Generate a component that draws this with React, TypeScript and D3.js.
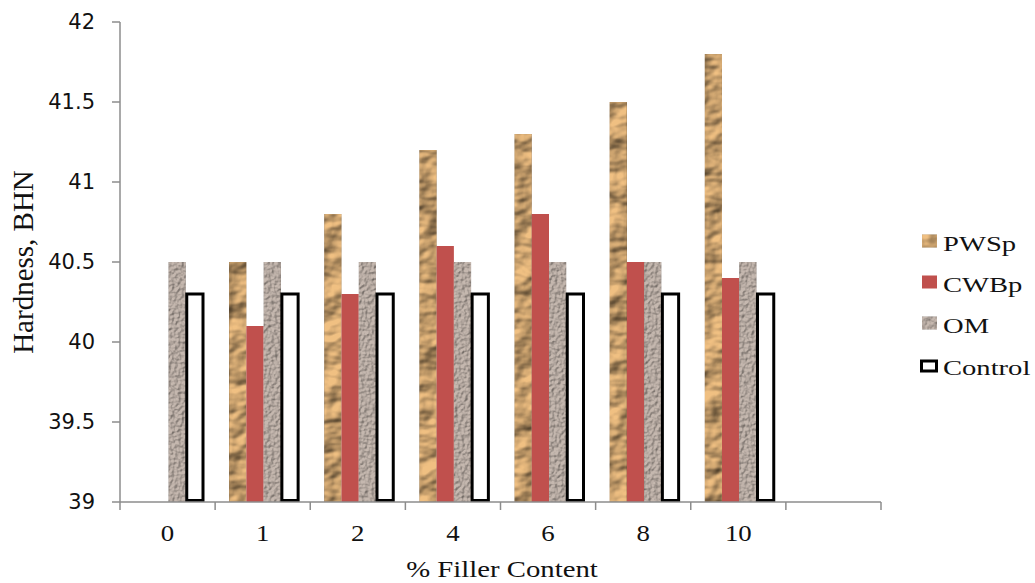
import React from "react";
import * as d3 from "d3";

const categories = ["0", "1", "2", "4", "6", "8", "10", ""];
const seriesNames = ["PWSp", "CWBp", "OM", "Control"];
const pwsp: (number | null)[] = [null, 40.5, 40.8, 41.2, 41.3, 41.5, 41.8, null];
const cwbp: (number | null)[] = [null, 40.1, 40.3, 40.6, 40.8, 40.5, 40.4, null];
const om: (number | null)[] = [40.5, 40.5, 40.5, 40.5, 40.5, 40.5, 40.5, null];
const control: (number | null)[] = [40.3, 40.3, 40.3, 40.3, 40.3, 40.3, 40.3, null];
const yTicks = [39, 39.5, 40, 40.5, 41, 41.5, 42];

const W = 1035;
const H = 583;
const left = 120;
const right = 881;
const top = 22;
const bottom = 502;

const axisColor = "#8c8c8c";
const textColor = "#111";

export default function App() {
  const x = d3.scaleBand<string>().domain(categories.map((c, i) => String(i))).range([left, right]).padding(0);
  const inner = d3.scaleBand<string>().domain(seriesNames).range([14, 83]).padding(0);
  const y = d3.scaleLinear().domain([39, 42]).range([bottom, top]);
  const bw = inner.bandwidth();

  const seriesData: Record<string, (number | null)[]> = {
    PWSp: pwsp,
    CWBp: cwbp,
    OM: om,
    Control: control,
  };

  const fillFor = (s: string) =>
    s === "PWSp" ? "#d6ab74" : s === "CWBp" ? "#c0504d" : s === "OM" ? "#b3a79f" : "#fff";
  const filterFor = (s: string) =>
    s === "PWSp" ? "url(#paperTex)" : s === "OM" ? "url(#stoneTex)" : undefined;

  const bars: React.ReactNode[] = [];
  categories.forEach((c, ci) => {
    seriesNames.forEach((s) => {
      const v = seriesData[s][ci];
      if (v == null) return;
      const bx = (x(String(ci)) as number) + (inner(s) as number);
      const yt = y(v);
      if (s === "Control") {
        bars.push(
          <rect
            key={`${s}-${ci}`}
            x={bx + 1}
            y={yt}
            width={bw - 1}
            height={bottom - yt - 1.5}
            fill="#fff"
            stroke="#000"
            strokeWidth={3}
          />
        );
      } else {
        bars.push(
          <rect
            key={`${s}-${ci}`}
            x={bx}
            y={yt}
            width={bw}
            height={bottom - yt}
            fill={fillFor(s)}
            filter={filterFor(s)}
          />
        );
      }
    });
  });

  const boundaries = d3.range(categories.length + 1).map((i) => left + i * x.step());
  const legendBaselines = [251, 292, 333, 375];

  return (
    <svg
      width={W}
      height={H}
      style={{ position: "absolute", left: 0, top: 0, background: "#fff" }}
      xmlns="http://www.w3.org/2000/svg"
    >
      <defs>
        <filter id="paperTex" x="0" y="0" width="1" height="1" colorInterpolationFilters="sRGB">
          <feTurbulence type="fractalNoise" baseFrequency="0.03 0.045" numOctaves={3} seed={4} result="n" />
          <feDiffuseLighting in="n" surfaceScale={6} diffuseConstant={1.1} lightingColor="#ffffff" result="l">
            <feDistantLight azimuth={225} elevation={45} />
          </feDiffuseLighting>
          <feComposite in="l" in2="SourceGraphic" operator="arithmetic" k1={0.9} k2={0} k3={0.22} k4={0} />
        </filter>
        <filter id="stoneTex" x="0" y="0" width="1" height="1" colorInterpolationFilters="sRGB">
          <feTurbulence type="fractalNoise" baseFrequency="0.3" numOctaves={3} seed={9} result="n" />
          <feDiffuseLighting in="n" surfaceScale={2} diffuseConstant={1.1} lightingColor="#ffffff" result="l">
            <feDistantLight azimuth={225} elevation={50} />
          </feDiffuseLighting>
          <feComposite in="l" in2="SourceGraphic" operator="arithmetic" k1={0.55} k2={0} k3={0.55} k4={0} />
        </filter>
      </defs>

      {bars}

      {/* Y axis */}
      <line x1={left} x2={left} y1={top} y2={bottom} stroke={axisColor} strokeWidth={1.5} />
      {yTicks.map((t) => (
        <g key={t}>
          <line x1={left - 8} x2={left} y1={y(t)} y2={y(t)} stroke={axisColor} strokeWidth={1.5} />
          <text
            x={95}
            y={y(t)}
            textAnchor="end"
            dominantBaseline="central"
            fontFamily="DejaVu Sans, sans-serif"
            fontSize={21}
            fill={textColor}
          >
            {String(t)}
          </text>
        </g>
      ))}

      {/* X axis */}
      <line x1={left} x2={right} y1={bottom} y2={bottom} stroke={axisColor} strokeWidth={1.5} />
      {boundaries.map((b, i) => (
        <line key={i} x1={b} x2={b} y1={bottom} y2={bottom + 8} stroke={axisColor} strokeWidth={1.5} />
      ))}
      {categories.map((c, i) => (
        <text
          key={i}
          transform={`translate(${(x(String(i)) as number) + x.bandwidth() / 2},541) scale(1.12,1)`}
          textAnchor="middle"
          fontFamily="Liberation Serif, serif"
          fontSize={24}
          fill={textColor}
        >
          {c}
        </text>
      ))}

      {/* Axis titles */}
      <text
        transform="translate(502,577) scale(1.25,1)"
        textAnchor="middle"
        fontFamily="Liberation Serif, serif"
        fontSize={23}
        fill={textColor}
      >
        % Filler Content
      </text>
      <text
        transform="translate(33,262) rotate(-90)"
        textAnchor="middle"
        fontFamily="Liberation Serif, serif"
        fontSize={29}
        fill={textColor}
      >
        Hardness, BHN
      </text>

      {/* Legend */}
      {seriesNames.map((s, i) => {
        const bl = legendBaselines[i];
        return (
          <g key={s}>
            {s === "Control" ? (
              <rect x={921.5} y={bl - 14} width={15} height={10} fill="#fff" stroke="#000" strokeWidth={3} />
            ) : (
              <rect x={922} y={bl - 16.5} width={15} height={13} fill={fillFor(s)} filter={filterFor(s)} />
            )}
            <text
              transform={`translate(943,${bl}) scale(1.3,1)`}
              fontFamily="Liberation Serif, serif"
              fontSize={22}
              fill={textColor}
            >
              {s}
            </text>
          </g>
        );
      })}
    </svg>
  );
}
